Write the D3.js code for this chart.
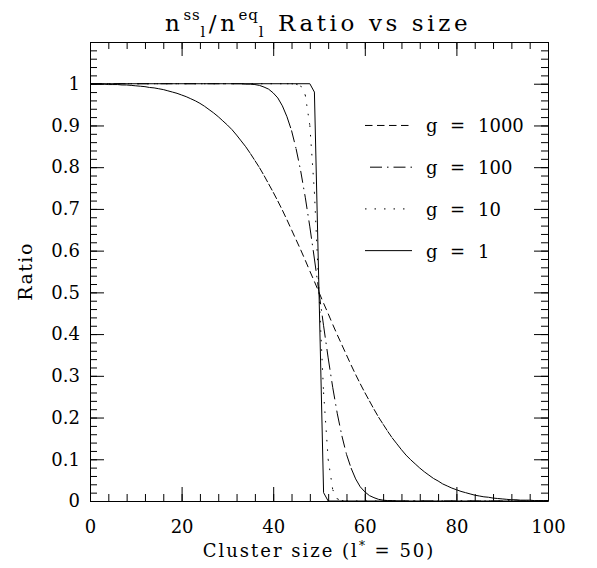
<!DOCTYPE html>
<html>
<head>
<meta charset="utf-8">
<script src="https://cdn.jsdelivr.net/npm/d3@7"></script>
<style>
  body { margin: 0; background: #fff; }
  svg { display: block; }
  text { font-family: "DejaVu Serif", serif; fill: #000; }
</style>
</head>
<body>
<svg id="chart" width="597" height="568"></svg>
<script>
// cluster sizes and ratio n_ss / n_eq
const sizeG1000 = d3.range(0, 101);
const ratioG1000 = [
  0.999, 0.999, 0.999, 0.999, 0.998, 0.998, 0.998, 0.997, 0.997, 0.996,
  0.995, 0.994, 0.993, 0.991, 0.990, 0.988, 0.986, 0.983, 0.980, 0.977,
  0.973, 0.969, 0.964, 0.959, 0.953, 0.946, 0.938, 0.930, 0.921, 0.911,
  0.901, 0.890, 0.877, 0.863, 0.849, 0.833, 0.816, 0.799, 0.780, 0.760,
  0.740, 0.719, 0.697, 0.674, 0.650, 0.626, 0.602, 0.577, 0.551, 0.526,
  0.500, 0.474, 0.449, 0.423, 0.398, 0.374, 0.350, 0.326, 0.303, 0.281,
  0.260, 0.240, 0.220, 0.201, 0.184, 0.167, 0.151, 0.137, 0.123, 0.110,
  0.099, 0.089, 0.079, 0.070, 0.062, 0.054, 0.048, 0.041, 0.036, 0.031,
  0.027, 0.023, 0.020, 0.017, 0.014, 0.012, 0.010, 0.009, 0.007, 0.006,
  0.005, 0.004, 0.003, 0.003, 0.002, 0.002, 0.002, 0.001, 0.001, 0.001,
  0.001
];

const sizeG100 = [0, 33, 34, 35, 36, 37, 38, 39, 40, 41, 42, 43, 44, 45, 46, 47, 48, 49, 50,
  51, 52, 53, 54, 55, 56, 57, 58, 59, 60, 61, 62, 63, 64, 65, 66, 67, 100];
const ratioG100 = [1.0, 1.0, 0.999, 0.999, 0.998, 0.996, 0.992, 0.987, 0.978, 0.966, 0.947,
  0.921, 0.888, 0.844, 0.791, 0.728, 0.657, 0.580, 0.500,
  0.420, 0.343, 0.272, 0.209, 0.156, 0.112, 0.079, 0.053, 0.034, 0.022, 0.013, 0.008,
  0.004, 0.002, 0.001, 0.001, 0.0, 0.0];

const sizeG10 = [0, 43, 44, 45, 46, 47, 48, 49, 50, 51, 52, 53, 54, 55, 56, 100];
const ratioG10 = [1.0, 1.0, 1.0, 0.999, 0.995, 0.973, 0.900, 0.740, 0.500,
  0.260, 0.100, 0.027, 0.005, 0.001, 0.0, 0.0];

const sizeG1 = [0, 48, 49, 50, 51, 52, 100];
const ratioG1 = [1.0, 1.0, 0.98, 0.5, 0.02, 0.0, 0.0];

const legendLabels = ["1000", "100", "10", "1"];

const xMajorTicks = [0, 20, 40, 60, 80, 100];
const yMajorTicks = [0, 0.1, 0.2, 0.3, 0.4, 0.5, 0.6, 0.7, 0.8, 0.9, 1];
const yTickLabels = ["0", "0.1", "0.2", "0.3", "0.4", "0.5", "0.6", "0.7", "0.8", "0.9", "1"];

const width = 597, height = 568;
const margin = { top: 42, right: 49, bottom: 67, left: 90 };

const svg = d3.select("#chart").attr("viewBox", [0, 0, width, height]);

const x = d3.scaleLinear()
  .domain([0, 100])
  .range([margin.left, width - margin.right]);

const y = d3.scaleLinear()
  .domain([0, 1.1])
  .range([height - margin.bottom, margin.top]);

const xMinor = d3.range(0, 101, 4);
const yMinor = d3.range(0, 111, 2).map(d => d / 100);

// ticks inside the frame on all four sides
function styleAxis(g) {
  g.attr("font-family", "DejaVu Serif, serif").attr("font-size", 18);
  g.selectAll("line, path").attr("stroke", "#000").attr("stroke-width", 1);
  g.selectAll("text").attr("fill", "#000");
}

function xAxis(g, axisFn, ty, labels) {
  g.attr("transform", `translate(0,${ty})`)
    .call(axisFn(x).tickValues(xMinor).tickSizeInner(-7).tickSizeOuter(0).tickFormat(""))
    .call(g => g.select(".domain").remove());
  const major = g.append("g")
    .call(axisFn(x).tickValues(xMajorTicks).tickSizeInner(-14).tickSizeOuter(0)
      .tickPadding(19).tickFormat(labels ? d => String(d) : ""));
  styleAxis(g);
  major.attr("font-size", 18).attr("font-family", "DejaVu Serif, serif");
}

function yAxis(g, axisFn, tx, labels) {
  g.attr("transform", `translate(${tx},0)`)
    .call(axisFn(y).tickValues(yMinor).tickSizeInner(-7).tickSizeOuter(0).tickFormat(""))
    .call(g => g.select(".domain").remove());
  const major = g.append("g")
    .call(axisFn(y).tickValues(yMajorTicks).tickSizeInner(-14).tickSizeOuter(0)
      .tickPadding(10).tickFormat(labels ? (d, i) => yTickLabels[i] : ""));
  styleAxis(g);
  major.attr("font-size", 18).attr("font-family", "DejaVu Serif, serif");
}

svg.append("g").call(xAxis, d3.axisBottom, y(0), true);
svg.append("g").call(xAxis, d3.axisTop, y(1.1), false);
svg.append("g").call(yAxis, d3.axisLeft, x(0), true);
svg.append("g").call(yAxis, d3.axisRight, x(100), false);

// each segment is its own subpath so the dash pattern restarts, like the original plot
function segmentPath(xs, ys) {
  let p = "";
  for (let i = 1; i < xs.length; i++) {
    p += `M${x(xs[i - 1])},${y(ys[i - 1])}L${x(xs[i])},${y(ys[i])}`;
  }
  return p;
}

const series = [
  { sizes: sizeG1000, ratio: ratioG1000, dash: "7.5,4.5" },
  { sizes: sizeG100, ratio: ratioG100, dash: "12,5,1.5,5" },
  { sizes: sizeG10, ratio: ratioG10, dash: "1.5,8" },
  { sizes: sizeG1, ratio: ratioG1, dash: null }
];

const curves = svg.append("g").attr("fill", "none").attr("stroke", "#000").attr("stroke-width", 1);
series.forEach(s => {
  curves.append("path")
    .attr("d", segmentPath(s.sizes, s.ratio))
    .attr("stroke-dasharray", s.dash);
});

// legend
const legendRows = [0.9, 0.8, 0.7, 0.6];
const legend = svg.append("g");
series.forEach((s, i) => {
  const ly = y(legendRows[i]);
  legend.append("line")
    .attr("x1", 365).attr("x2", 412).attr("y1", ly).attr("y2", ly)
    .attr("stroke", "#000").attr("stroke-width", 1)
    .attr("stroke-dasharray", s.dash)
    .attr("stroke-dashoffset", i === 1 ? 18.5 : 0);
  const t = legend.append("text").attr("y", ly + 7).attr("font-size", 18);
  t.append("tspan").attr("x", 426).text("g");
  t.append("tspan").attr("x", 450).text("=");
  t.append("tspan").attr("x", 478).text(legendLabels[i]);
});

// title  n^ss_l / n^eq_l Ratio vs size
const title = svg.append("text")
  .attr("x", 165).attr("y", 31)
  .attr("font-size", 23).attr("letter-spacing", 3.6);
title.append("tspan").text("n");
title.append("tspan").attr("font-size", 15).attr("letter-spacing", 0.8).attr("dy", -11).text("ss");
title.append("tspan").attr("font-size", 15).attr("dy", 17).text("l");
title.append("tspan").attr("dy", -6).text("/n");
title.append("tspan").attr("font-size", 15).attr("letter-spacing", 0.8).attr("dy", -11).text("eq");
title.append("tspan").attr("font-size", 15).attr("dy", 17).text("l");
title.append("tspan").attr("dy", -6).text(" Ratio vs size");

// axis titles
const xLabel = svg.append("text")
  .attr("x", (margin.left + width - margin.right) / 2).attr("y", 557)
  .attr("text-anchor", "middle").attr("font-size", 18).attr("letter-spacing", 2);
xLabel.append("tspan").text("Cluster size (l");
xLabel.append("tspan").attr("font-size", 12).attr("dy", -7).text("*");
xLabel.append("tspan").attr("dy", 7).text(" = 50)");

svg.append("text")
  .attr("transform", `translate(32,${(margin.top + height - margin.bottom) / 2}) rotate(-90)`)
  .attr("text-anchor", "middle").attr("font-size", 19).attr("letter-spacing", 1.5)
  .text("Ratio");
</script>
</body>
</html>
